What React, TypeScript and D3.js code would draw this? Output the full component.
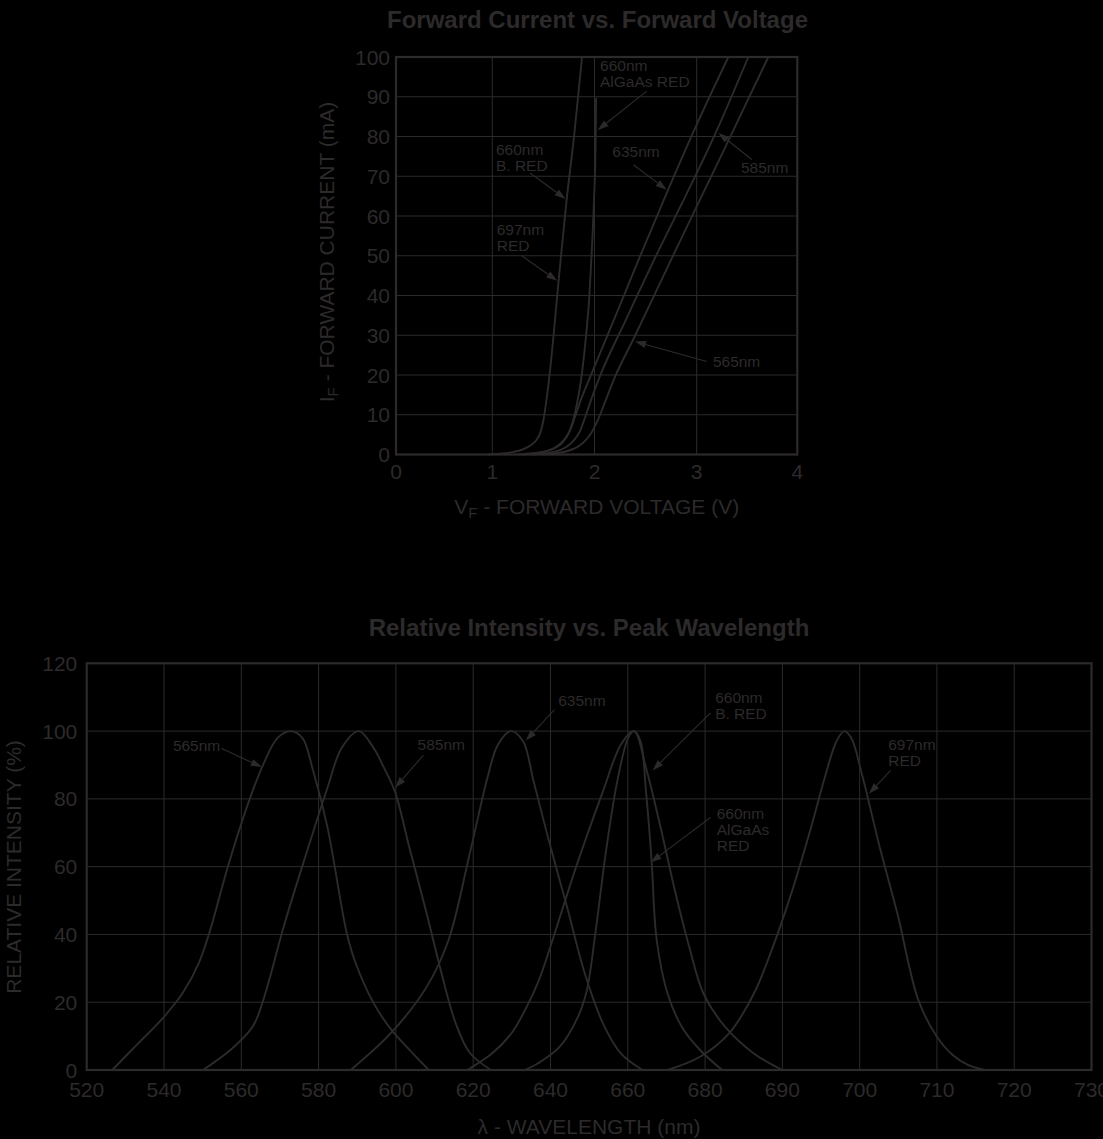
import React, { useLayoutEffect } from 'react';
import * as d3 from 'd3';

const W = 1103;
const H = 1139;
const INK = '#2d2a2b';
const FONT = '"Liberation Sans", Arial, Helvetica, sans-serif';

// ---------- Forward current vs forward voltage ----------
const vTicks = [0, 1, 2, 3, 4];
const iTicks = [0, 10, 20, 30, 40, 50, 60, 70, 80, 90, 100];

const ivRed: [number, number][] = [
  [0.95, 0], [1.1, 0.25], [1.2, 0.6], [1.3, 1.3], [1.38, 2.4], [1.43, 3.6], [1.47, 5.5],
  [1.495, 8], [1.515, 11], [1.56, 20], [1.65, 44], [1.727, 64], [1.8, 80], [1.878, 100],
];
const ivAlGaAs: [number, number][] = [
  [1.25, 0], [1.4, 0.3], [1.5, 0.7], [1.6, 1.5], [1.68, 2.8], [1.74, 5], [1.79, 8.5],
  [1.83, 13], [1.87, 19], [1.91, 28], [1.95, 40], [1.975, 52], [1.995, 64], [2.01, 77], [2.016, 89.7],
];
const iv635: [number, number][] = [
  [1.3, 0], [1.45, 0.4], [1.55, 1], [1.63, 2], [1.7, 3.6], [1.76, 6], [1.81, 9.5], [1.87, 14],
  [1.95, 19], [2.2, 34.5], [2.48, 52], [2.72, 66.6], [3.0, 83], [3.315, 100],
];
const iv585: [number, number][] = [
  [1.4, 0], [1.55, 0.4], [1.65, 1], [1.73, 2], [1.8, 3.6], [1.86, 6], [1.91, 9.5], [1.97, 14],
  [2.05, 19.5], [2.3, 33.5], [2.64, 52], [2.9, 65.5], [3.19, 81], [3.513, 100],
];
const iv565: [number, number][] = [
  [1.5, 0], [1.65, 0.4], [1.75, 1], [1.84, 2], [1.91, 3.5], [1.97, 5.5], [2.03, 8.5], [2.1, 13],
  [2.2, 19.5], [2.38, 29], [2.805, 52], [3.25, 75.5], [3.712, 100],
];
const ivSeries = [ivRed, ivAlGaAs, iv635, iv585, iv565];

type Note = { lines: string[]; at: [number, number]; from: [number, number]; to: [number, number] };
const ivNotes: Note[] = [
  { lines: ['660nm', 'AlGaAs RED'], at: [2.054, 96.4], from: [2.511, 91.4], to: [2.031, 81.6] },
  { lines: ['660nm', 'B. RED'], at: [1.036, 75.4], from: [1.369, 70.8], to: [1.718, 64.3] },
  { lines: ['697nm', 'RED'], at: [1.043, 55.3], from: [1.288, 50], to: [1.636, 43.7] },
  { lines: ['635nm'], at: [2.174, 74.9], from: [2.38, 72.9], to: [2.706, 66.6] },
  { lines: ['585nm'], at: [3.44, 70.8], from: [3.547, 74.2], to: [3.215, 80.9] },
  { lines: ['565nm'], at: [3.161, 22.1], from: [3.1, 23.4], to: [2.396, 28.4] },
];

// ---------- Relative intensity vs peak wavelength ----------
const lambdaTicks = [520, 540, 560, 580, 600, 620, 640, 660, 680, 690, 700, 710, 720, 730];
const relTicks = [0, 20, 40, 60, 80, 100, 120];

const sp565: [number, number][] = [
  [526.6, 0], [533, 7.5], [540, 15.7], [545, 23], [549, 31.5], [552, 41.5], [556.5, 59.9],
  [562, 79.4], [565.7, 90.2], [569.4, 98], [572.8, 100], [575.8, 98], [578.6, 88.2], [582.3, 71.6],
  [587.3, 40.3], [589.6, 31.5], [594.2, 19.8], [598.8, 11.9], [603.4, 6.1], [608.5, 0],
];
const sp585: [number, number][] = [
  [550.1, 0], [557.4, 6.1], [563, 12.9], [565.7, 20.7], [571.2, 43.2], [576.8, 63.8], [582.3, 83.3],
  [586, 95.1], [590.4, 100], [594.2, 95.1], [597, 89], [599.8, 82], [603.4, 66], [608, 46],
  [611.7, 29], [615.4, 14], [619.1, 5.1], [624.6, 0],
];
const sp635: [number, number][] = [
  [588.3, 0], [598.8, 11], [608, 24.6], [613.6, 38.3], [619.1, 63.8], [623.7, 86.3], [626.4, 96],
  [629.8, 100], [632.9, 97], [635.6, 85.3], [639.5, 68], [644.3, 48], [648.9, 28.4], [653.6, 13.7],
  [658.2, 4.9], [663.8, 0],
];
const sp660BRed: [number, number][] = [
  [618.5, 0], [625, 5], [630, 11], [634, 19], [637, 26.5], [641, 40], [646, 57.8], [650, 71],
  [653.6, 82.3], [658.2, 96], [661.6, 100], [664.7, 89.2], [668.5, 71.5], [672.2, 52.9],
  [675.9, 36.3], [679.6, 22.5], [682.6, 12.7], [686.3, 4.9], [690, 0],
];
const sp660AlGaAs: [number, number][] = [
  [633.3, 0], [636.8, 2], [642.4, 6.9], [647.1, 15.7], [649.4, 23.5], [651.7, 41.2], [654.5, 65.7],
  [657.3, 85.3], [660.1, 98], [661.6, 100], [663.3, 97], [664.7, 82.3], [666.1, 62.7], [667.5, 38.2],
  [670.3, 22.5], [674, 12.7], [678.7, 5.9], [682.2, 0],
];
const sp697: [number, number][] = [
  [670.3, 0], [678.7, 3.9], [683.1, 10.8], [686.3, 22.5], [688.6, 35.3], [691, 51], [693.7, 71.5],
  [695.6, 87.2], [697, 97], [698, 100], [698.9, 98], [700.3, 87.2], [702.6, 65.7], [704.9, 46],
  [707.6, 20.6], [710, 9.8], [712, 4.5], [714, 1.5], [716.2, 0],
];
const spSeries = [sp565, sp585, sp635, sp660BRed, sp660AlGaAs, sp697];

const spNotes: Note[] = [
  { lines: ['565nm'], at: [542.3, 94.1], from: [554.8, 94.9], to: [565.3, 89.4] },
  { lines: ['585nm'], at: [605.6, 94.3], from: [607.1, 92.9], to: [599.8, 83.3] },
  { lines: ['635nm'], at: [642, 107.3], from: [641, 106.3], to: [633.6, 97.2] },
  { lines: ['660nm', 'B. RED'], at: [681.3, 108.3], from: [680.7, 105.4], to: [666.4, 88.4] },
  { lines: ['697nm', 'RED'], at: [703.7, 94.5], from: [704, 88.4], to: [701.2, 81.5] },
  { lines: ['660nm', 'AlGaAs', 'RED'], at: [681.5, 74.2], from: [680.7, 74.5], to: [665.9, 61.25] },
];

// ---------- scales ----------
const xTop = d3.scaleLinear().domain(vTicks).range([396, 492.3, 594.5, 696.7, 797.3]);
const yTop = d3.scaleLinear().domain([0, 100]).range([454.5, 57]);
const xLow = d3.scaleLinear().domain([520, 680, 730]).range([86.7, 705.1, 1091.5]);
const yLow = d3.scaleLinear().domain([0, 120]).range([1070, 663.3]);

type Sc = d3.ScaleLinear<number, number>;

function Arrow({ x1, y1, x2, y2 }: { x1: number; y1: number; x2: number; y2: number }) {
  const a = Math.atan2(y2 - y1, x2 - x1);
  const len = 11;
  const hw = 3.6;
  const bx = x2 - len * Math.cos(a);
  const by = y2 - len * Math.sin(a);
  const px = -Math.sin(a) * hw;
  const py = Math.cos(a) * hw;
  return (
    <g>
      <line x1={x1} y1={y1} x2={bx} y2={by} stroke={INK} strokeWidth={1.1} />
      <polygon points={`${x2},${y2} ${bx + px},${by + py} ${bx - px},${by - py}`} fill={INK} />
    </g>
  );
}

function Notes({ notes, x, y }: { notes: Note[]; x: Sc; y: Sc }) {
  return (
    <g>
      {notes.map((n, i) => (
        <g key={i}>
          <text x={x(n.at[0])} y={y(n.at[1])} fontSize={15.5} fill={INK} fontFamily={FONT}>
            {n.lines.map((l, j) => (
              <tspan key={j} x={x(n.at[0])} dy={j === 0 ? 0 : 16}>
                {l}
              </tspan>
            ))}
          </text>
          <Arrow x1={x(n.from[0])} y1={y(n.from[1])} x2={x(n.to[0])} y2={y(n.to[1])} />
        </g>
      ))}
    </g>
  );
}

export default function App() {
  useLayoutEffect(() => {
    document.body.style.margin = '0';
    document.body.style.background = '#000';
  }, []);

  const ivLine = d3
    .line<[number, number]>()
    .x((d) => xTop(d[0]))
    .y((d) => yTop(d[1]))
    .curve(d3.curveMonotoneX);
  const spLine = d3
    .line<[number, number]>()
    .x((d) => xLow(d[0]))
    .y((d) => yLow(d[1]))
    .curve(d3.curveCatmullRom.alpha(0.5));

  const [tx0, tx1] = [xTop(0), xTop(4)];
  const [ty0, ty1] = [yTop(0), yTop(100)];
  const [lx0, lx1] = [xLow(520), xLow(730)];
  const [ly0, ly1] = [yLow(0), yLow(120)];

  return (
    <svg width={W} height={H} style={{ display: 'block', background: '#000' }} fontFamily={FONT}>
      <rect x={0} y={0} width={W} height={H} fill="#000" />

      {/* ===== Top chart ===== */}
      <text x={597.5} y={28} textAnchor="middle" fontWeight="bold" fontSize={24} fill={INK}>
        Forward Current vs. Forward Voltage
      </text>
      <g>
        {vTicks.slice(1, -1).map((v) => (
          <line key={v} x1={xTop(v)} x2={xTop(v)} y1={ty0} y2={ty1} stroke={INK} strokeWidth={1} />
        ))}
        {iTicks.slice(1, -1).map((v) => (
          <line key={v} x1={tx0} x2={tx1} y1={yTop(v)} y2={yTop(v)} stroke={INK} strokeWidth={1} />
        ))}
        <rect x={tx0} y={ty1} width={tx1 - tx0} height={ty0 - ty1} fill="none" stroke={INK} strokeWidth={2.2} />
      </g>
      {ivSeries.map((s, i) => (
        <path key={i} d={ivLine(s) || ''} fill="none" stroke={INK} strokeWidth={1.9} />
      ))}
      <Notes notes={ivNotes} x={xTop} y={yTop} />
      {vTicks.map((v) => (
        <text key={v} x={xTop(v)} y={478.5} textAnchor="middle" fontSize={21} fill={INK}>
          {v}
        </text>
      ))}
      {iTicks.map((v) => (
        <text key={v} x={390} y={yTop(v) + 7.5} textAnchor="end" fontSize={21} fill={INK}>
          {v}
        </text>
      ))}
      <text x={596.7} y={513.5} textAnchor="middle" fontSize={21} fill={INK}>
        V<tspan fontSize={15} dy={4}>F</tspan>
        <tspan dy={-4}> - FORWARD VOLTAGE (V)</tspan>
      </text>
      <text transform="translate(333.5,252) rotate(-90)" textAnchor="middle" fontSize={21} fill={INK}>
        I<tspan fontSize={15} dy={4}>F</tspan>
        <tspan dy={-4}> - FORWARD CURRENT (mA)</tspan>
      </text>

      {/* ===== Bottom chart ===== */}
      <text x={589} y={636} textAnchor="middle" fontWeight="bold" fontSize={24} fill={INK}>
        Relative Intensity vs. Peak Wavelength
      </text>
      <g>
        {lambdaTicks.slice(1, -1).map((v) => (
          <line key={v} x1={xLow(v)} x2={xLow(v)} y1={ly0} y2={ly1} stroke={INK} strokeWidth={1} />
        ))}
        {relTicks.slice(1, -1).map((v) => (
          <line key={v} x1={lx0} x2={lx1} y1={yLow(v)} y2={yLow(v)} stroke={INK} strokeWidth={1} />
        ))}
        <rect x={lx0} y={ly1} width={lx1 - lx0} height={ly0 - ly1} fill="none" stroke={INK} strokeWidth={2.2} />
      </g>
      {spSeries.map((s, i) => (
        <path key={i} d={spLine(s) || ''} fill="none" stroke={INK} strokeWidth={1.9} />
      ))}
      <Notes notes={spNotes} x={xLow} y={yLow} />
      {lambdaTicks.map((v) => (
        <text key={v} x={xLow(v)} y={1096.7} textAnchor="middle" fontSize={21} fill={INK}>
          {v}
        </text>
      ))}
      {relTicks.map((v) => (
        <text key={v} x={77.3} y={yLow(v) + 7.5} textAnchor="end" fontSize={21} fill={INK}>
          {v}
        </text>
      ))}
      <text x={589} y={1134} textAnchor="middle" fontSize={21} fill={INK}>
        λ - WAVELENGTH (nm)
      </text>
      <text transform="translate(21,867) rotate(-90)" textAnchor="middle" fontSize={21} fill={INK}>
        RELATIVE INTENSITY (%)
      </text>
    </svg>
  );
}
